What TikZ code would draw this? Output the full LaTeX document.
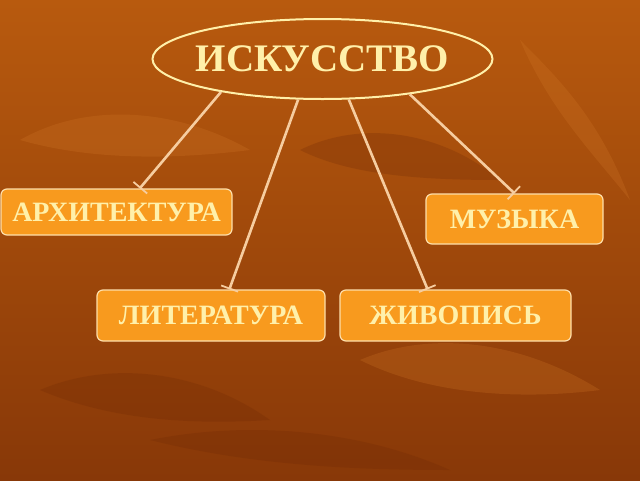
\documentclass[tikz,border=0pt]{standalone}
\usepackage{fontspec}
\setmainfont{Liberation Serif}
\usetikzlibrary{shapes.geometric,arrows.meta,calc}
\definecolor{bgtop}{RGB}{184,90,14}
\definecolor{bgbot}{RGB}{136,56,8}
\definecolor{boxfill}{RGB}{248,154,30}
\definecolor{boxedge}{RGB}{253,222,170}
\definecolor{txt}{RGB}{255,240,170}
\definecolor{lnk}{RGB}{246,205,160}
\definecolor{leafA}{RGB}{210,120,40}
\definecolor{leafB}{RGB}{110,40,5}
\tikzset{
  catbox/.style={draw=boxedge, line width=1.2pt, fill=boxfill, rounded corners=6pt,
    font=\bfseries\fontsize{28}{32}\selectfont, text=txt, inner sep=0pt},
  link/.style={draw=lnk, line width=2.6pt, -{Bar[width=18pt,line width=1.8pt]}},
  leaf/.style={fill=leafA, opacity=0.25},
  leafd/.style={fill=leafB, opacity=0.25},
}
\begin{document}
\begin{tikzpicture}[x=1pt,y=-1pt]
\useasboundingbox (0,0) rectangle (640,480);
\shade[top color=bgtop, bottom color=bgbot] (0,0) rectangle (640,480);
% faint leaf pattern
\fill[leaf] (20,140) .. controls (90,100) and (180,110) .. (250,150) .. controls (170,160) and (90,160) .. cycle;
\fill[leafd] (300,150) .. controls (360,120) and (440,130) .. (500,180) .. controls (420,180) and (350,175) .. cycle;
\fill[leaf] (360,360) .. controls (430,330) and (520,340) .. (600,390) .. controls (520,400) and (430,395) .. cycle;
\fill[leafd] (40,390) .. controls (110,360) and (200,370) .. (270,420) .. controls (190,425) and (110,420) .. cycle;
\fill[leaf] (520,40) .. controls (560,80) and (600,120) .. (630,200) .. controls (590,150) and (550,110) .. cycle;
\fill[leafd] (150,440) .. controls (250,420) and (360,430) .. (450,470) .. controls (350,470) and (250,465) .. cycle;
% title ellipse
\node[draw=txt, line width=2pt, ellipse, minimum width=340pt, minimum height=80pt, inner sep=0pt] (art) at (322.5,59) {};
\node[font=\bfseries\fontsize{39}{45}\selectfont, text=txt] (arttxt) at (art.center) {ИСКУССТВО};
% boxes
\node[catbox, minimum width=231pt, minimum height=46pt] (arch) at (116.5,212) {АРХИТЕКТУРА};
\node[catbox, minimum width=177pt, minimum height=50pt] (muz) at (514.5,219) {МУЗЫКА};
\node[catbox, minimum width=228pt, minimum height=51pt] (lit) at (211,315.5) {ЛИТЕРАТУРА};
\node[catbox, minimum width=231pt, minimum height=51pt] (zhiv) at (455.5,315.5) {ЖИВОПИСЬ};
% end points
\coordinate (e1) at ($(arch.north west)!0.6!(arch.north east)$);
\coordinate (e2) at ($(lit.north west)!0.58!(lit.north east)$);
\coordinate (e3) at ($(zhiv.north west)!0.38!(zhiv.north east)$);
\coordinate (e4) at ($(muz.north west)!0.5!(muz.north east)$);
% connectors
\draw[link] (art.198) -- (e1);
\draw[link] (art.239) -- (e2);
\draw[link] (art.303) -- (e3);
\draw[link] (art.338) -- (e4);
\end{tikzpicture}
\end{document}
